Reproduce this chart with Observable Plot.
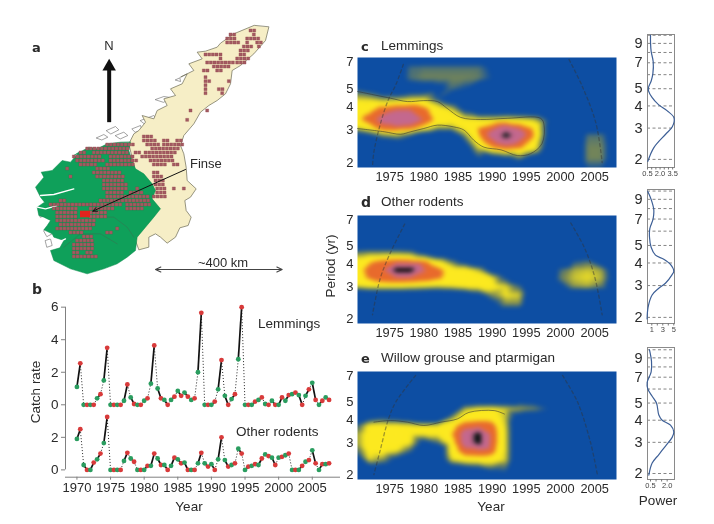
<!DOCTYPE html>
<html>
<head>
<meta charset="utf-8">
<script src="https://cdn.jsdelivr.net/npm/d3@7"></script>
<script src="https://cdn.jsdelivr.net/npm/@observablehq/plot@0.6"></script>
<style>
html,body{margin:0;padding:0;background:#fff}
#page{position:relative;width:714px;height:524px;overflow:hidden;font-family:"Liberation Sans",Arial,sans-serif;color:#2a2a2a;filter:blur(0.3px)}
#page svg{position:absolute;background:transparent;font-family:"Liberation Sans",Arial,sans-serif}
.lab{position:absolute;white-space:nowrap;line-height:1;font-size:13.5px}
</style>
</head>
<body>
<div id="page"></div>
<script>
// ---- panel b: catch rate, spring and autumn of each year
const catchYears = d3.range(1970, 2008);
const lemmingSpring = [1.1,0,0,0.4,1.5,0,0,0.25,0.45,0,0.25,1.3,1.0,0.3,0.3,0.85,0.75,0.3,2.0,0,0,0.95,0.55,0.35,2.8,0,0,0.3,0.05,0.25,0,0.25,0.65,0.6,0.55,1.35,0,0.45];
const lemmingAutumn = [2.55,0,0,0.65,3.5,0,0,1.25,0.05,0,0.4,3.65,0.4,0,0.5,0.55,0.5,0.4,5.65,0,0.2,2.75,0,0.65,6.0,0,0.2,0.45,0,0,0.45,0.6,0.75,0,0.95,0.3,0.25,0.3];
const rodentSpring = [1.9,0.3,0,0.65,1.65,0,0,0.55,0.7,0,0,0.25,0.7,0.3,0.25,0.65,0.45,0,0.4,0.4,0.35,0.65,0.6,0.3,1.3,0,0.25,0.3,0.95,0.75,0.75,0.9,0,0,0.5,1.2,0,0.35];
const rodentAutumn = [2.5,0,0.45,1.0,3.25,0,0,1.05,0.5,0,0.25,1.0,0.3,0,0.75,0.4,0,0,1.05,0.2,0,2.0,0.2,0.4,1.0,0.2,0.35,0.7,0.85,0.3,0.8,1.0,0,0.25,0.6,0.4,0.35,0.4];
const rateTicks = [0,2,4,6,8,10];
const rateTickLabels = ["0","2","0","2","4","6"];
const stackOffset = 4;

// ---- panels c, d, e: wavelet power, rows of period against columns of year
const heatYears = [1970,1972,1974,1976,1978,1980,1982,1984,1986,1988,1990,1992,1994,1996,1998,2000,2002,2004,2006,2009];
const lemmingPeriods = [1.85,2.1,2.4,2.8,3.05,3.4,3.9,4.4,5,5.7,6.5,7.5];
const lemmingHeat = [
 [0,0,0,0,0,0,0,0,0,1,0,0,0,0,0,0,0,2,2,0],
 [0,0,0,0,0,0,0,0,0,2,1,1.5,2.6,1,0,0,0,2.9,2.9,0],
 [0,0,0,0,0,0,0,0,1,3.6,5,5.8,5.3,4.4,1.5,0,0,2.9,2.9,0],
 [1.3,1.8,2.8,3.2,2.3,0.5,0,0,3,5,7.1,8.9,7.4,5.3,2,0,0,2.6,2.6,0],
 [3.3,4.2,5.8,5.9,5.5,4.4,3,3,4,5.2,6.2,7.6,6.4,5,2,0,0,0.8,0.8,0],
 [4.6,5.8,7,8,8,6.3,4.7,4.3,4,3.8,3.8,4,3.8,3.5,2.2,1.2,0,0,0,0],
 [4,4.6,5.6,6.2,6.2,5.5,4.4,3.5,1.5,0,0,0,0,0,0,0,0,0,0,0],
 [3.6,3.5,3,3.1,3.5,3.6,2.2,0.8,0,0,0,0,0,0,0,0,0,0,0,0],
 [2,1.5,0.5,0,0.8,1,1.5,2.5,2,0.5,0,0,0,0,0,0,0,0,0,0],
 [0,0,0,1,2.6,2.9,2.9,2.9,2.9,2.8,2,1,0,0,0,0,0,0,0,0],
 [0,0,0,0.5,2.5,2.6,2.6,2.6,2.6,2.6,1.8,1.2,1.2,1.2,0.5,0,0,0,0,0],
 [0,0,0,0,0,0,0,0,0,0,0,0,0,0,0,0,0,0,0,0]
];
const otherPeriods = [1.85,2.1,2.4,2.7,3,3.35,3.7,4.1,4.6,5.2,6,7.5];
const otherHeat = [
 [0,0,0,0,0,0,0,0,0,0,0,0,0,0,0,0,0,0,0,0],
 [0,0,0,0,0,0,0,0,0,0,0,0,0,0,0,0,0,0,0,0],
 [0,0,0,0,0,0,0,0,0,0,1.5,3,3,0,0,0,0,0,0,0],
 [0,0,0,0,0,0,0,0,0.5,1.5,3,3.8,3.6,0,0,0,0,0,0,0],
 [3.5,4,4.1,4.1,3.9,3.7,3.5,3.7,4.1,4.2,4.1,3.7,2.5,0,0,1.5,3.1,3.3,2.8,0],
 [4.6,5.3,6,6.3,6.3,6,5.4,4.6,4.5,4.3,3.8,2,0,0,0,2.8,3.5,3.7,3.4,0],
 [4.6,5.5,6.2,9.2,9.2,6.5,5.6,4.5,4.4,3.4,1,0,0,0,0,2.5,3.3,3.5,3.2,0],
 [4.2,5,5.6,5.9,5.8,5.5,4.2,2.8,1.5,0,0,0,0,0,0,0,2.2,2.6,1,0],
 [2.8,3,3,3,2.8,1.5,0,0,0,0,0,0,0,0,0,0,0,0,0,0],
 [0,0,0,0,0,0,0,0,0,0,0,0,0,0,0,0,0,0,0,0],
 [0,0,0,0,0,0,0,0,0,0,0,0,0,0,0,0,0,0,0,0],
 [0,0,0,0,0,0,0,0,0,0,0,0,0,0,0,0,0,0,0,0]
];
const grousePeriods = [1.85,2.1,2.4,2.7,3,3.35,3.7,4.1,4.6,5.2,6,7.5];
const grouseHeat = [
 [0,0,0,0,0,0,0,0,0,0,0,0,0,0,0,0,0,0,0,0],
 [0,0,0,0,0,0,0,0,0.5,1,2,2.2,0,0,0,0,0,0,0,0],
 [0,3.6,3,1.5,0,0,0,3.5,4.2,4.3,4.3,3.5,0,0,0,0,0,0,0,0],
 [2.2,4.1,4.2,3.8,2.5,0,0,4.2,6,6.1,5.7,3.6,0,0,0,0,0,0,0,0],
 [3,4.2,4.2,4.6,3.9,1.5,2.5,4.4,7.2,8.9,6,3.6,0,0,0,0,0,0,0,0],
 [3,4.2,4.3,4.8,4.1,4,4,5,7.2,8.9,6,3.6,0,0,0,0,0,0,0,0],
 [2.2,4.1,4.2,4.2,4,3.8,3.9,4.6,5.9,6.1,5.7,3.5,0,0,0,0,0,0,0,0],
 [0,1.5,2,1.5,1,0,0,3,4.3,4.5,4.5,3.4,1,0,0,0,0,0,0,0],
 [0,0,0,0,0,0,0,0,3.3,3.8,3.9,3.6,3.3,3,2.2,0,0,0,0,0],
 [0,0,0,0,0,0,0,0,0,0,0,0,1,1,0,0,0,0,0,0],
 [0,0,0,0,0,0,0,0,0,0,0,0,0,0,0,0,0,0,0,0],
 [0,0,0,0,0,0,0,0,0,0,0,0,0,0,0,0,0,0,0,0]
];
const heatLevels = [0,2,3,3.8,5,5.3,6.2,6.6,8,8.5];
const heatColours = ["#0d4ea3","#0d4ea3","#7d8a52","#fbe91f","#fde920","#e86a2c","#e96a2c","#c4688e","#c4688e","#2c2a32"];

// significance contour and cone of influence
const lemmingContourYear = [1970.3,1972.7,1975.15,1977.6,1980,1982,1983.4,1985.4,1988.3,1992.2,1997.1,1997.6,1997.3,1995.6,1993.7,1991.3,1988.8,1987.3,1985.9,1984.4,1982,1980,1978.1,1976.6,1974.2,1970.3];
const lemmingContourPeriod = [4.83,4.63,4.44,4.26,4.31,4.26,3.92,3.5,3.41,3.46,3.46,3.18,2.53,2.23,2.18,2.34,2.42,2.64,2.99,3.11,3.18,3.05,2.93,2.84,2.93,3.05];
const grouseContourYear = [1972.7,1975.15,1977.6,1980,1982.5,1984.9,1986.6,1990.3,1991.8];
const grouseContourPeriod = [3.88,3.96,3.88,3.72,3.88,4.04,4.39,4.49,4.3];
const coneSets = {
  c: [[1977,6.75],[1975.9,5.24],[1974.8,4.35],[1973.6,3.18],[1972.7,2.28],[1972.5,1.93]],
  cR: [[2001.25,7.18],[2003.2,5.14],[2005.2,3.25],[2006.1,2]],
  d: [[1977.2,6.6],[1975,4.5],[1973.6,3.3],[1972.5,2.1]],
  dR: [[2001.5,6.7],[2003.5,4.9],[2005,3.4],[2006.1,2.1]],
  e: [[1978.8,7],[1975.9,5],[1974.8,4],[1973.6,2.7],[1972.7,2]],
  eR: [[2000.3,7],[2002.5,5],[2004.4,3],[2005.4,2]]
};
const heatYearTicks = [1975,1980,1985,1990,1995,2000,2005];
const heatPeriodTicks = [2,3,4,5,7];

// ---- side panels: global power
const lemmingPowerPeriod = [1.95,2.33,2.77,3.05,3.43,3.75,4.08,4.45,4.86,5.08,5.53,6.08,7.1,8.09,9.09,10];
const lemmingPower = [0.54,1.26,2.66,3.46,3.66,2.86,1.78,1.06,0.62,0.62,0.94,1.14,1.18,0.94,0.86,0.86];
const otherPowerPeriod = [1.96,2.28,2.66,2.9,3.09,3.45,3.6,3.93,4.2,4.42,4.89,5.57,6.2,7.02,7.9,9,9.95];
const otherPower = [0.15,0.33,1.06,2.27,3.48,4.7,5,4.4,3.18,1.67,0.88,0.58,0.64,1.24,1.36,0.88,0.27];
const grousePowerPeriod = [1.96,2.29,2.56,2.86,3.2,3.43,3.75,4,4.28,5,5.46,6,6.54,7.5,8.6,10];
const grousePower = [0.35,0.65,1.25,1.85,2.45,2.6,2.3,1.55,1.25,1.04,0.65,0.26,0.2,0.56,0.59,0.41];
const gridPeriods = [2,3,4,5,6,7,8,9,10];
const sidePeriodLabels = [2,3,4,5,7,9];

// ---- panel a: map, in map units
const countryX = [745,735,700,660,635,630,615,590,565,540,520,490,480,490,497,500,527,510,493,497,512,503,478,465,440,420,405,385,385,355,345,370,325,340,355,375,365,400,410,440,430,465,450,485,500,480,520,505,545,530,555,590,600,640,700];
const countryY = [20,60,100,135,150,190,220,240,255,275,310,345,375,400,440,480,505,530,540,570,590,615,622,650,668,650,640,650,680,688,660,560,370,340,330,305,285,295,270,255,235,225,205,190,160,170,150,130,115,95,92,80,68,40,15];
const westX = [330,325,335,345,370,395,405,395,420,400,375,350,345,320,290,250,200,150,100,90,118,130,100,95,70,80,90,70,55,50,72,60,45,70,62,95,110,125,150,175,160,205,230,260,300];
const westY = [365,390,420,445,460,490,510,535,565,590,620,650,690,710,730,745,760,745,720,690,682,660,650,640,628,615,600,590,585,560,545,530,500,470,455,450,435,420,425,395,405,380,385,370,365];
const islandShapes = [
 [[228,352],[250,342],[262,350],[245,358]],
 [[258,330],[285,318],[295,328],[272,340]],
 [[285,345],[310,335],[322,345],[300,355]],
 [[335,325],[360,315],[365,330],[345,335]],
 [[360,300],[400,285],[410,300],[380,315]],
 [[405,237],[430,228],[455,232],[430,245]],
 [[415,300],[445,295],[442,320],[420,318]],
 [[465,178],[478,172],[480,182]],
 [[480,215],[510,195],[520,200],[500,220]],
 [[505,170],[525,160],[530,170],[512,180]],
 [[520,140],[540,128],[545,140],[528,150]],
 [[440,260],[465,245],[470,255],[450,270]],
 [[545,100],[570,92],[572,105],[550,112]],
 [[70,630],[85,620],[95,640],[80,648]],
 [[75,660],[90,655],[95,675],[80,680]],
 [[55,570],[70,565],[75,585],[60,590]],
 [[380,625],[395,618],[400,640],[385,645]]
];
const fjordRuns = [
 [[60,525],[100,522],[160,505]],
 [[85,650],[115,665],[135,655]],
 [[50,560],[75,565],[110,555]]
];
const regionLines = [
 [[230,590],[280,590],[320,620],[340,650]],
 [[130,680],[180,640],[240,640],[290,670]]
];
// survey squares: row, then runs of columns
const cellRows = [
 [30,[[690,710]]],[42,[[630,650],[700,710]]],[54,[[620,650],[680,720]]],[66,[[620,660],[680,690],[710,730]]],
 [78,[[670,700],[715,725]]],[90,[[660,690]]],[102,[[555,590],[600,610],[660,680]]],[114,[[600,610],[650,690]]],
 [126,[[560,640],[650,680]]],[138,[[580,630]]],[150,[[550,570],[590,610]]],[170,[[555,565]]],[182,[[555,575],[625,630]]],
 [194,[[555,565]]],[206,[[555,565],[595,615]]],[218,[[555,565],[605,615]]],[270,[[510,520],[560,565]]],[298,[[500,510]]],
 [348,[[370,400]]],[360,[[370,410],[430,450],[470,490]]],[372,[[260,340],[380,420],[430,490]]],
 [384,[[200,330],[395,480]]],[396,[[180,200],[220,320],[345,360],[375,470]]],[408,[[160,240],[270,345],[365,460]]],
 [420,[[170,250],[270,350],[390,460]]],[432,[[180,230],[260,345],[400,440],[460,475]]],[444,[[140,150],[230,270]]],
 [456,[[220,300],[400,420]]],[468,[[150,160],[230,310],[400,425]]],[480,[[250,310],[405,430]]],[492,[[250,320],[405,430]]],
 [504,[[250,320],[350,355],[410,440],[460,465],[490,495]]],[516,[[260,310],[330,370],[410,440]]],[528,[[260,390],[400,440]]],
 [540,[[120,140],[240,390]]],[552,[[90,300],[320,390]]],[564,[[100,170],[210,280],[320,370]]],[576,[[110,170],[210,260]]],
 [588,[[110,170],[210,260]]],[600,[[110,230]]],[612,[[120,220]]],[624,[[110,210],[290,300]]],[636,[[150,190],[260,280]]],
 [648,[[190,220]]],[660,[[170,220]]],[672,[[160,220]]],[684,[[160,220]]],[696,[[160,180],[200,220]]],[708,[[160,230]]]
];
const finseSite = {x1:180,x2:210,y1:572,y2:592};
const finsePointer = {x1:495,y1:447,x2:217,y2:572};
const northShaft = {x1:266,y1:305,x2:266,y2:140};
const northHead = {x:266,y:138};
const scaleBar = {x1:405,x2:785,y:747};

// ---- build
const page = document.getElementById("page");
function place(svg, left, top){ svg.style.left = left + "px"; svg.style.top = top + "px"; page.appendChild(svg); }
function label(text, x, y, opt = {}){
  const d = document.createElement("div");
  d.className = "lab"; d.textContent = text;
  d.style.left = x + "px"; d.style.top = y + "px";
  let tr = "translateY(-50%)";
  if (opt.anchor === "middle") tr = "translate(-50%,-50%)";
  if (opt.rotate) tr = "translate(-50%,-50%) rotate(-90deg)";
  d.style.transform = tr;
  if (opt.size) d.style.fontSize = opt.size + "px";
  if (opt.bold) { d.style.fontWeight = "bold"; d.style.fontFamily = '"DejaVu Sans",sans-serif'; }
  page.appendChild(d);
}
const toPts = (a,b) => a.map((v,i)=>({x:v,y:b[i]}));

// panel a
const cells = cellRows.flatMap(([y,runs]) => runs.flatMap(([a,b]) => d3.range(a, b+1, 11).map(x => ({x,y}))));
const shapes = a => a.flatMap((s,i)=>s.map(([x,y])=>({id:i,x,y})));
const mapPlot = Plot.plot({
  width:320,height:260,margin:0,
  x:{domain:[0,960],axis:null},y:{domain:[780,0],axis:null},
  marks:[
    Plot.line(shapes(islandShapes),{x:"x",y:"y",z:"id",fill:"#fff",stroke:"#666",strokeWidth:0.6,curve:"linear-closed"}),
    Plot.line(toPts(countryX,countryY),{x:"x",y:"y",fill:"#f6eec6",stroke:"#6b6a55",strokeWidth:0.7,curve:"linear-closed"}),
    Plot.line(toPts(westX,westY),{x:"x",y:"y",fill:"#0fa05a",stroke:"#0b8a4d",strokeWidth:0.5,curve:"linear-closed"}),
    Plot.line(shapes(fjordRuns),{x:"x",y:"y",z:"id",stroke:"#fff",strokeWidth:1.3}),
    Plot.line(shapes(regionLines),{x:"x",y:"y",z:"id",stroke:"#3a6e50",strokeWidth:0.5}),
    Plot.dot(cells,{x:"x",y:"y",symbol:"square",r:1.75,fill:"#a35a62",stroke:"#8d3f44",strokeWidth:0.25}),
    Plot.rect([finseSite],{x1:"x1",x2:"x2",y1:"y1",y2:"y2",fill:"#e3231d"}),
    Plot.arrow([finsePointer],{x1:"x1",y1:"y1",x2:"x2",y2:"y2",stroke:"#111",strokeWidth:1,headLength:7,headAngle:50}),
    Plot.link([northShaft],{x1:"x1",y1:"y1",x2:"x2",y2:"y2",stroke:"#111",strokeWidth:4}),
    Plot.dot([northHead],{x:"x",y:"y",symbol:"triangle",r:5,fill:"#111"}),
    Plot.arrow([{a:(scaleBar.x1+scaleBar.x2)/2,b:scaleBar.x2,y:scaleBar.y}],{x1:"a",x2:"b",y1:"y",y2:"y",stroke:"#444",strokeWidth:1.1,headLength:8,headAngle:50}),
    Plot.arrow([{a:(scaleBar.x1+scaleBar.x2)/2,b:scaleBar.x1,y:scaleBar.y}],{x1:"a",x2:"b",y1:"y",y2:"y",stroke:"#444",strokeWidth:1.1,headLength:8,headAngle:50})
  ]
});
place(mapPlot,20,20);

// panel b
const season = (years, spring, autumn) => years.flatMap((y,i)=>[{t:y,v:spring[i],s:"spring"},{t:y+0.5,v:autumn[i],s:"autumn"}]);
const lem = season(catchYears, lemmingSpring, lemmingAutumn).map(d=>({...d,v:d.v+stackOffset}));
const rod = season(catchYears, rodentSpring, rodentAutumn);
const links = arr => d3.pairs(arr).map(([a,b])=>({x1:a.t,x2:b.t,y1:a.v,y2:b.v,summer:a.s==="spring"}));
const allLinks = links(lem).concat(links(rod));
const allPts = lem.concat(rod);
const axisGrey = "#808080";
const catchPlot = Plot.plot({
  width:320,height:205,marginLeft:45,marginRight:0,marginTop:5,marginBottom:23.3,
  x:{domain:[1968.3,2009.2],axis:null},
  y:{domain:[-0.45,10.41],axis:null},
  marks:[
    Plot.ruleX([1968.3],{y1:0,y2:10,stroke:axisGrey,strokeWidth:1}),
    Plot.ruleY([-0.45],{stroke:axisGrey,strokeWidth:1}),
    Plot.axisY({ticks:rateTicks,tickFormat:(d,i)=>rateTickLabels[i],tickSize:4,tickPadding:3,fontSize:13.5,stroke:axisGrey,color:"#2a2a2a",label:null}),
    Plot.axisX({ticks:d3.range(1970,2010,5),tickFormat:d=>String(d),tickSize:3,tickPadding:3,fontSize:13,stroke:axisGrey,color:"#2a2a2a",label:null,anchor:"bottom"}),
    Plot.link(allLinks.filter(d=>!d.summer),{x1:"x1",x2:"x2",y1:"y1",y2:"y2",stroke:"#222",strokeWidth:1,strokeDasharray:"1,2"}),
    Plot.link(allLinks.filter(d=>d.summer),{x1:"x1",x2:"x2",y1:"y1",y2:"y2",stroke:"#111",strokeWidth:1.7}),
    Plot.dot(allPts,{x:"t",y:"v",r:2.4,fill:d=>d.s==="spring"?"#2a9d5f":"#d83a3a"})
  ]
});
place(catchPlot,20,295);

// panels c, d, e
function heatPanel(periods, heat, cones, contourX, contourY, yTop, yBottom){
  const cells = periods.flatMap((p,r)=>heatYears.map((y,c)=>({year:y,period:p,v:heat[r][c]})));
  const coneRows = cones.flatMap((c,i)=>c.map(([year,period])=>({i,year,period})));
  const marks = [
    Plot.raster(cells,{x:"year",y:"period",fill:"v",interpolate:"barycentric",pixelSize:1,blur:1.5}),
    Plot.line(coneRows,{x:"year",y:"period",z:"i",stroke:"#333",strokeOpacity:0.45,strokeWidth:1.3,strokeDasharray:"3,3",curve:"catmull-rom"}),
    Plot.axisY({ticks:heatPeriodTicks,tickFormat:d=>String(d),tickSize:0,tickPadding:4,fontSize:13,color:"#2a2a2a",label:null}),
    Plot.axisX({ticks:heatYearTicks,tickFormat:d=>String(d),tickSize:0,tickPadding:4,fontSize:12.8,color:"#2a2a2a",label:null})
  ];
  if (contourX) marks.splice(1,0,Plot.line(toPts(contourX,contourY),{x:"x",y:"y",stroke:"#333",strokeOpacity:0.8,strokeWidth:0.7,curve:"catmull-rom"}));
  const svg = Plot.plot({
    width:300,height:yBottom-yTop+28,marginLeft:37,marginRight:4,marginTop:4,marginBottom:24,
    x:{domain:[1970.3,2008.2],axis:null},
    y:{type:"log",domain:[1.88,7.36],axis:null},
    color:{type:"linear",domain:heatLevels,range:heatColours},
    marks
  });
  place(svg,320,yTop-4);
}
heatPanel(lemmingPeriods,lemmingHeat,[coneSets.c,coneSets.cR],lemmingContourYear,lemmingContourPeriod,57,167);
heatPanel(otherPeriods,otherHeat,[coneSets.d,coneSets.dR],null,null,215,323);
heatPanel(grousePeriods,grouseHeat,[coneSets.e,coneSets.eR],grouseContourYear,grouseContourPeriod,371,479);

// side panels
function sidePanel(periods, power, top, bottom, dom, yDom, tickVals, labels){
  const svg = Plot.plot({
    width:70,height:bottom-top+22,marginLeft:27,marginRight:16,marginTop:2,marginBottom:20,
    x:{domain:dom,axis:null},
    y:{type:"log",domain:yDom,axis:null},
    marks:[
      Plot.ruleY(gridPeriods,{stroke:"#666",strokeWidth:0.8,strokeDasharray:"3,2.5"}),
      Plot.frame({stroke:"#8a8a8a",strokeWidth:1}),
      Plot.line(toPts(power,periods),{x:"x",y:"y",stroke:"#3d5f96",strokeWidth:1.2,curve:"catmull-rom"}),
      Plot.axisY({ticks:sidePeriodLabels,tickFormat:d=>String(d),tickSize:0,tickPadding:5,fontSize:14.5,color:"#2a2a2a",label:null}),
      Plot.axisX({ticks:tickVals,tickFormat:d=>labels.has(d)?labels.get(d):"",tickSize:2.5,tickPadding:1,fontSize:7.5,stroke:"#777",color:"#444",label:null})
    ]
  });
  place(svg,620,top-2);
}
sidePanel(lemmingPowerPeriod,lemmingPower,34,167,[0.5,3.72],[1.8,10.1],d3.range(0.5,3.6,0.5),new Map([[0.5,"0.5"],[2,"2.0"],[3.5,"3.5"]]));
sidePanel(otherPowerPeriod,otherPower,189,323,[0.22,5.13],[1.85,10.2],[1,2,3,4,5],new Map([[1,"1"],[3,"3"],[5,"5"]]));
sidePanel(grousePowerPeriod,grousePower,347,479,[0.23,2.66],[1.85,10.3],[0.5,1,1.5,2],new Map([[0.5,"0.5"],[2,"2.0"]]));

// text
label("a",32,47,{bold:true,size:13});
label("N",109,45,{anchor:"middle",size:13});
label("Finse",190,163,{size:13});
label("~400 km",223,262,{anchor:"middle",size:13});
label("b",32,289,{bold:true,size:14});
label("Lemmings",258,324);
label("Other rodents",236,432);
label("Catch rate",36,392,{rotate:true,size:13.5});
label("Year",189,507,{anchor:"middle"});
label("c",361,46,{bold:true,size:13});
label("Lemmings",381,46);
label("d",361,202,{bold:true,size:14});
label("Other rodents",381,202);
label("e",361,358,{bold:true,size:13});
label("Willow grouse and ptarmigan",381,358);
label("Period (yr)",331,266,{rotate:true,size:13.5});
label("Year",491,507,{anchor:"middle"});
label("Power",658,501,{anchor:"middle"});
</script>
</body>
</html>
